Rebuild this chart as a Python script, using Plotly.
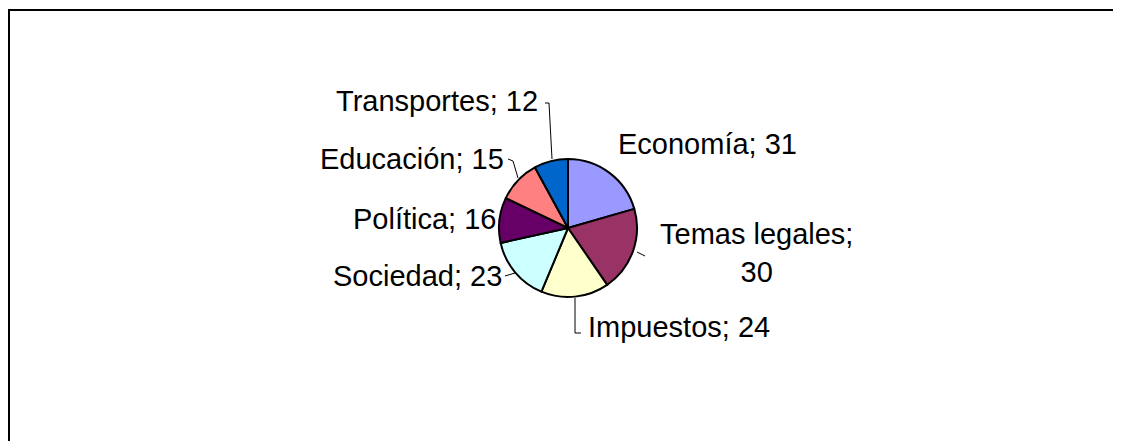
import plotly.graph_objects as go

W, H = 1121, 441
OFF = 8  # page body margin

categories = ["Economía", "Temas legales", "Impuestos", "Sociedad", "Política", "Educación", "Transportes"]
values = [31, 30, 24, 23, 16, 15, 12]
colors = ["#9999FF", "#993366", "#FFFFCC", "#CCFFFF", "#660066", "#FF8080", "#0066CC"]


def px(x):
    return (x - OFF) / W


def py(y):
    return 1 - (y - OFF) / H


cx, cy, r = 568, 228, 69

fig = go.Figure(go.Pie(
    labels=categories,
    values=values,
    sort=False,
    direction="clockwise",
    rotation=0,
    marker=dict(colors=colors, line=dict(color="black", width=2)),
    textinfo="none",
    hoverinfo="label+value",
    showlegend=False,
    domain=dict(x=[px(cx - r), px(cx + r)], y=[py(cy + r), py(cy - r)]),
))

font = dict(family="Liberation Sans, Arial, sans-serif", size=29, color="black")

# label placements: (text, x, y, xanchor)
label_pos = [
    (f"{categories[0]}; {values[0]}", 616, 144, "left"),
    (f"{categories[1]};<br>{values[1]}", 756, 253, "center"),
    (f"{categories[2]}; {values[2]}", 586, 327, "left"),
    (f"{categories[3]}; {values[3]}", 504, 276, "right"),
    (f"{categories[4]}; {values[4]}", 498, 219, "right"),
    (f"{categories[5]}; {values[5]}", 506, 159, "right"),
    (f"{categories[6]}; {values[6]}", 540, 101, "right"),
]
annotations = []
for text, x, y, xa in label_pos:
    annotations.append(dict(
        text=text, x=px(x), y=py(y), xref="paper", yref="paper",
        xanchor=xa, yanchor="middle", showarrow=False, font=font, align="center",
    ))

leaders = [
    [(545, 103), (549, 103), (552, 159)],
    [(508, 159), (513, 161), (518, 178)],
    [(505, 276), (515, 273)],
    [(637, 252), (645, 256)],
    [(575, 298), (575, 333), (581, 333)],
]
shapes = []
for pts in leaders:
    path = "M" + " L".join(f"{px(x)},{py(y)}" for x, y in pts)
    shapes.append(dict(type="path", path=path, xref="paper", yref="paper",
                       line=dict(color="black", width=1)))

# chart frame
shapes.append(dict(type="path", path=f"M{px(9)},{py(460)} L{px(9)},{py(10)} L{px(1140)},{py(10)}",
                   xref="paper", yref="paper", line=dict(color="black", width=2)))

fig.update_layout(
    width=W, height=H,
    margin=dict(l=0, r=0, t=0, b=0),
    paper_bgcolor="white", plot_bgcolor="white",
    annotations=annotations, shapes=shapes,
)

fig.write_html("out.html")
